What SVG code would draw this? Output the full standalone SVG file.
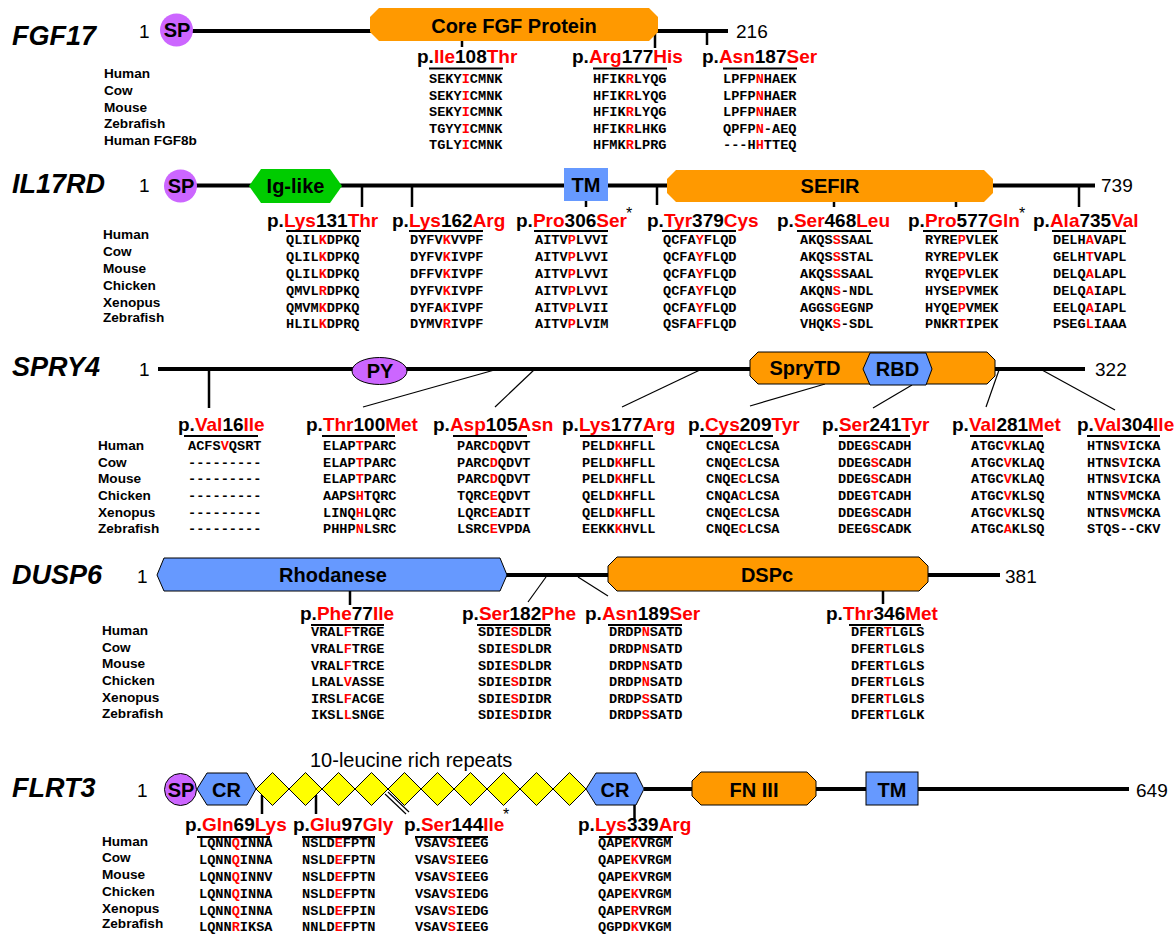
<svg xmlns="http://www.w3.org/2000/svg" width="1176" height="934" viewBox="0 0 1176 934">
<style>
text{font-family:"Liberation Sans",Arial,sans-serif}
.g{font-style:italic;font-weight:bold;font-size:27px}
.n{font-size:19px}
.d{font-weight:bold;font-size:20px;text-anchor:middle}
.l{font-weight:bold;font-size:19px}
.s{font-family:"Liberation Mono","Courier New",monospace;font-weight:bold;font-size:13.6px}
.a{font-size:16px}
.r{fill:#f00}
.bb{stroke:#000;stroke-width:4}
.tk{stroke:#000;stroke-width:2.5}
.th{stroke:#000;stroke-width:1.2}
.ul{stroke:#000;stroke-width:2}
.or{fill:#f90}
.bl{fill:#69f}
.pu{fill:#c6f}
.gr{fill:#0c0}
.ye{fill:#ff0}
.k{stroke:#000;stroke-width:1}
</style>
<rect width="1176" height="934" fill="#fff"/>

<!-- ================= FGF17 ================= -->
<g id="fgf17">
<text class="g" x="12" y="45">FGF17</text>
<text class="n" x="139" y="38">1</text>
<text class="n" x="736" y="38">216</text>
<g id="fgf17-connectors">
<line class="bb" x1="190" y1="31" x2="728" y2="31"/>
<line class="tk" x1="462" y1="38" x2="462" y2="47"/>
<line class="tk" x1="655" y1="31" x2="655" y2="48"/>
<line class="tk" x1="707" y1="31" x2="707" y2="45"/>
</g>
<g id="fgf17-sp"><circle class="pu" cx="176.5" cy="30" r="16.5"/><text class="d" x="177" y="37">SP</text></g>
<g id="fgf17-core"><polygon class="or" points="379,8 649,8 658,17 658,32 649,41 379,41 370,32 370,17"/><text class="d" x="514" y="33">Core FGF Protein</text></g>
<g class="s" fill="#000">
<text x="104" y="78">Human</text><text x="104" y="95">Cow</text><text x="104" y="112">Mouse</text><text x="104" y="128">Zebrafish</text><text x="104" y="145">Human FGF8b</text>
</g>
<g id="fgf17-ile108">
<text class="l" x="417" y="63">p.<tspan class="r">Ile</tspan>108<tspan class="r">Thr</tspan></text>
<line class="ul" x1="429" y1="68.5" x2="503" y2="68.5"/>
<text class="s" x="429" y="83">SEKY<tspan class="r">I</tspan>CMNK</text>
<text class="s" x="429" y="99.6">SEKY<tspan class="r">I</tspan>CMNK</text>
<text class="s" x="429" y="116.2">SEKY<tspan class="r">I</tspan>CMNK</text>
<text class="s" x="429" y="132.8">TGYY<tspan class="r">I</tspan>CMNK</text>
<text class="s" x="429" y="149.4">TGLY<tspan class="r">I</tspan>CMNK</text>
</g>
<g id="fgf17-arg177">
<text class="l" x="572" y="63">p.<tspan class="r">Arg</tspan>177<tspan class="r">His</tspan></text>
<line class="ul" x1="593" y1="68.5" x2="667" y2="68.5"/>
<text class="s" x="593" y="83">HFIK<tspan class="r">R</tspan>LYQG</text>
<text class="s" x="593" y="99.6">HFIK<tspan class="r">R</tspan>LYQG</text>
<text class="s" x="593" y="116.2">HFIK<tspan class="r">R</tspan>LYQG</text>
<text class="s" x="593" y="132.8">HFIK<tspan class="r">R</tspan>LHKG</text>
<text class="s" x="593" y="149.4">HFMK<tspan class="r">R</tspan>LPRG</text>
</g>
<g id="fgf17-asn187">
<text class="l" x="702" y="63">p.<tspan class="r">Asn</tspan>187<tspan class="r">Ser</tspan></text>
<line class="ul" x1="723" y1="68.5" x2="797" y2="68.5"/>
<text class="s" x="723" y="83">LPFP<tspan class="r">N</tspan>HAEK</text>
<text class="s" x="723" y="99.6">LPFP<tspan class="r">N</tspan>HAER</text>
<text class="s" x="723" y="116.2">LPFP<tspan class="r">N</tspan>HAER</text>
<text class="s" x="723" y="132.8">QPFP<tspan class="r">N</tspan>-AEQ</text>
<text class="s" x="723" y="149.4">---H<tspan class="r">H</tspan>TTEQ</text>
</g>
</g>

<!-- ================= IL17RD ================= -->
<g id="il17rd">
<text class="g" x="12" y="193">IL17RD</text>
<text class="n" x="139" y="192">1</text>
<text class="n" x="1101" y="192">739</text>
<g id="il17rd-connectors">
<line class="bb" x1="190" y1="185.5" x2="1095" y2="185.5"/>
<line class="tk" x1="362" y1="185" x2="362" y2="207"/>
<line class="tk" x1="412" y1="185" x2="412" y2="207"/>
<line class="tk" x1="586" y1="200" x2="586" y2="207"/>
<line class="tk" x1="657" y1="185" x2="657" y2="205"/>
<line class="tk" x1="834" y1="200" x2="834" y2="207"/>
<line class="tk" x1="956" y1="200" x2="956" y2="207"/>
<line class="tk" x1="1079" y1="185" x2="1079" y2="207"/>
</g>
<g id="il17rd-sp"><circle class="pu" cx="180.5" cy="186" r="16.5"/><text class="d" x="181" y="193">SP</text></g>
<g id="il17rd-ig"><polygon class="gr" points="249,186 261,169 330,169 342,186 330,203 261,203"/><text class="d" x="295.5" y="193">Ig-like</text></g>
<g id="il17rd-tm"><rect class="bl" x="564" y="168" width="44" height="33"/><text class="d" x="586" y="192">TM</text></g>
<g id="il17rd-sefir"><polygon class="or" points="676,170 984,170 993,179 993,193 984,202 676,202 667,193 667,179"/><text class="d" x="830" y="193">SEFIR</text></g>
<g class="s" fill="#000">
<text x="103" y="239">Human</text><text x="103" y="256">Cow</text><text x="103" y="273">Mouse</text><text x="103" y="290">Chicken</text><text x="103" y="307">Xenopus</text><text x="103" y="322">Zebrafish</text>
</g>
<g id="il17rd-lys131">
<text class="l" x="267" y="227">p.<tspan class="r">Lys</tspan>131<tspan class="r">Thr</tspan></text>
<line class="ul" x1="286" y1="231" x2="361" y2="231"/>
<text class="s" x="286" y="244">QLIL<tspan class="r">K</tspan>DPKQ</text>
<text class="s" x="286" y="261">QLIL<tspan class="r">K</tspan>DPKQ</text>
<text class="s" x="286" y="278">QLIL<tspan class="r">K</tspan>DPKQ</text>
<text class="s" x="286" y="295">QMVL<tspan class="r">R</tspan>DPKQ</text>
<text class="s" x="286" y="312">QMVM<tspan class="r">K</tspan>DPKQ</text>
<text class="s" x="286" y="328">HLIL<tspan class="r">K</tspan>DPRQ</text>
</g>
<g id="il17rd-lys162">
<text class="l" x="392" y="227">p.<tspan class="r">Lys</tspan>162<tspan class="r">Arg</tspan></text>
<line class="ul" x1="409" y1="231" x2="483" y2="231"/>
<text class="s" x="410" y="244">DYFV<tspan class="r">K</tspan>VVPF</text>
<text class="s" x="410" y="261">DYFV<tspan class="r">K</tspan>IVPF</text>
<text class="s" x="410" y="278">DFFV<tspan class="r">K</tspan>IVPF</text>
<text class="s" x="410" y="295">DYFV<tspan class="r">K</tspan>IVPF</text>
<text class="s" x="410" y="312">DYFA<tspan class="r">K</tspan>IVPF</text>
<text class="s" x="410" y="328">DYMV<tspan class="r">R</tspan>IVPF</text>
</g>
<g id="il17rd-pro306">
<text class="l" x="516" y="227">p.<tspan class="r">Pro</tspan>306<tspan class="r">Ser</tspan></text>
<text class="a" x="626" y="219">*</text>
<line class="ul" x1="534" y1="231" x2="608" y2="231"/>
<text class="s" x="535" y="244">AITV<tspan class="r">P</tspan>LVVI</text>
<text class="s" x="535" y="261">AITV<tspan class="r">P</tspan>LVVI</text>
<text class="s" x="535" y="278">AITV<tspan class="r">P</tspan>LVVI</text>
<text class="s" x="535" y="295">AITV<tspan class="r">P</tspan>LVVI</text>
<text class="s" x="535" y="312">AITV<tspan class="r">P</tspan>LVII</text>
<text class="s" x="535" y="328">AITV<tspan class="r">P</tspan>LVIM</text>
</g>
<g id="il17rd-tyr379">
<text class="l" x="647" y="227">p.<tspan class="r">Tyr</tspan>379<tspan class="r">Cys</tspan></text>
<line class="ul" x1="662" y1="231" x2="736" y2="231"/>
<text class="s" x="663" y="244">QCFA<tspan class="r">Y</tspan>FLQD</text>
<text class="s" x="663" y="261">QCFA<tspan class="r">Y</tspan>FLQD</text>
<text class="s" x="663" y="278">QCFA<tspan class="r">Y</tspan>FLQD</text>
<text class="s" x="663" y="295">QCFA<tspan class="r">Y</tspan>FLQD</text>
<text class="s" x="663" y="312">QCFA<tspan class="r">Y</tspan>FLQD</text>
<text class="s" x="663" y="328">QSFA<tspan class="r">F</tspan>FLQD</text>
</g>
<g id="il17rd-ser468">
<text class="l" x="777" y="227">p.<tspan class="r">Ser</tspan>468<tspan class="r">Leu</tspan></text>
<line class="ul" x1="797" y1="231" x2="871" y2="231"/>
<text class="s" x="800" y="244">AKQS<tspan class="r">S</tspan>SAAL</text>
<text class="s" x="800" y="261">AKQS<tspan class="r">S</tspan>STAL</text>
<text class="s" x="800" y="278">AKQS<tspan class="r">S</tspan>SAAL</text>
<text class="s" x="800" y="295">AKQN<tspan class="r">S</tspan>-NDL</text>
<text class="s" x="800" y="312">AGGS<tspan class="r">G</tspan>EGNP</text>
<text class="s" x="800" y="328">VHQK<tspan class="r">S</tspan>-SDL</text>
</g>
<g id="il17rd-pro577">
<text class="l" x="908" y="227">p.<tspan class="r">Pro</tspan>577<tspan class="r">Gln</tspan></text>
<text class="a" x="1019" y="219">*</text>
<line class="ul" x1="923" y1="231" x2="997" y2="231"/>
<text class="s" x="925" y="244">RYRE<tspan class="r">P</tspan>VLEK</text>
<text class="s" x="925" y="261">RYRE<tspan class="r">P</tspan>VLEK</text>
<text class="s" x="925" y="278">RYQE<tspan class="r">P</tspan>VLEK</text>
<text class="s" x="925" y="295">HYSE<tspan class="r">P</tspan>VMEK</text>
<text class="s" x="925" y="312">HYQE<tspan class="r">P</tspan>VMEK</text>
<text class="s" x="925" y="328">PNKR<tspan class="r">T</tspan>IPEK</text>
</g>
<g id="il17rd-ala735">
<text class="l" x="1033" y="227">p.<tspan class="r">Ala</tspan>735<tspan class="r">Val</tspan></text>
<line class="ul" x1="1052" y1="231" x2="1126" y2="231"/>
<text class="s" x="1053" y="244">DELH<tspan class="r">A</tspan>VAPL</text>
<text class="s" x="1053" y="261">GELH<tspan class="r">T</tspan>VAPL</text>
<text class="s" x="1053" y="278">DELQ<tspan class="r">A</tspan>LAPL</text>
<text class="s" x="1053" y="295">DELQ<tspan class="r">A</tspan>IAPL</text>
<text class="s" x="1053" y="312">EELQ<tspan class="r">A</tspan>IAPL</text>
<text class="s" x="1053" y="328">PSEG<tspan class="r">L</tspan>IAAA</text>
</g>
</g>

<!-- ================= SPRY4 ================= -->
<g id="spry4">
<text class="g" x="12" y="376">SPRY4</text>
<text class="n" x="139" y="376">1</text>
<text class="n" x="1095" y="376">322</text>
<g id="spry4-connectors">
<line class="bb" x1="158" y1="369" x2="1085" y2="369"/>
<line class="tk" x1="209" y1="369" x2="209" y2="408"/>
<line class="th" x1="363" y1="407" x2="498" y2="369"/>
<line class="th" x1="495" y1="407" x2="535" y2="369"/>
<line class="th" x1="622" y1="407" x2="702" y2="369"/>
<line class="th" x1="750" y1="406" x2="825" y2="384"/>
<line class="th" x1="873" y1="408" x2="912" y2="385"/>
<line class="th" x1="986" y1="407" x2="999" y2="370"/>
<line class="th" x1="1115" y1="410" x2="1042" y2="370"/>
</g>
<g id="spry4-py"><ellipse class="pu k" cx="379.5" cy="371" rx="27.5" ry="13.5"/><text class="d" x="380" y="378">PY</text></g>
<g id="spry4-sprytd"><polygon class="or k" points="758,352 987,352 995,360 995,376 987,384 758,384 750,376 750,360"/><text class="d" x="805" y="375">SpryTD</text></g>
<g id="spry4-rbd"><polygon class="bl k" points="863,369 870,353 926,353 932,369 926,385 870,385"/><text class="d" x="897.5" y="376">RBD</text></g>
<g class="s" fill="#000">
<text x="98" y="450">Human</text><text x="98" y="467">Cow</text><text x="98" y="483">Mouse</text><text x="98" y="500">Chicken</text><text x="98" y="517">Xenopus</text><text x="98" y="533">Zebrafish</text>
</g>
<g id="spry4-val16">
<text class="l" x="178" y="431">p.<tspan class="r">Val</tspan>16<tspan class="r">Ile</tspan></text>
<line class="ul" x1="184" y1="436" x2="258" y2="436"/>
<text class="s" x="188" y="450">ACFS<tspan class="r">V</tspan>QSRT</text>
<text class="s" x="188" y="467">---------</text>
<text class="s" x="188" y="483">---------</text>
<text class="s" x="188" y="500">---------</text>
<text class="s" x="188" y="517">---------</text>
<text class="s" x="188" y="533">---------</text>
</g>
<g id="spry4-thr100">
<text class="l" x="306" y="431">p.<tspan class="r">Thr</tspan>100<tspan class="r">Met</tspan></text>
<line class="ul" x1="322" y1="436" x2="395" y2="436"/>
<text class="s" x="323" y="450">ELAP<tspan class="r">T</tspan>PARC</text>
<text class="s" x="323" y="467">ELAP<tspan class="r">T</tspan>PARC</text>
<text class="s" x="323" y="483">ELAP<tspan class="r">T</tspan>PARC</text>
<text class="s" x="323" y="500">AAPS<tspan class="r">H</tspan>TQRC</text>
<text class="s" x="323" y="517">LINQ<tspan class="r">H</tspan>LQRC</text>
<text class="s" x="323" y="533">PHHP<tspan class="r">N</tspan>LSRC</text>
</g>
<g id="spry4-asp105">
<text class="l" x="433" y="431">p.<tspan class="r">Asp</tspan>105<tspan class="r">Asn</tspan></text>
<line class="ul" x1="453" y1="436" x2="527" y2="436"/>
<text class="s" x="457" y="450">PARC<tspan class="r">D</tspan>QDVT</text>
<text class="s" x="457" y="467">PARC<tspan class="r">D</tspan>QDVT</text>
<text class="s" x="457" y="483">PARC<tspan class="r">D</tspan>QDVT</text>
<text class="s" x="457" y="500">TQRC<tspan class="r">E</tspan>QDVT</text>
<text class="s" x="457" y="517">LQRC<tspan class="r">E</tspan>ADIT</text>
<text class="s" x="457" y="533">LSRC<tspan class="r">E</tspan>VPDA</text>
</g>
<g id="spry4-lys177">
<text class="l" x="562" y="431">p.<tspan class="r">Lys</tspan>177<tspan class="r">Arg</tspan></text>
<line class="ul" x1="580" y1="436" x2="653" y2="436"/>
<text class="s" x="582" y="450">PELD<tspan class="r">K</tspan>HFLL</text>
<text class="s" x="582" y="467">PELD<tspan class="r">K</tspan>HFLL</text>
<text class="s" x="582" y="483">PELD<tspan class="r">K</tspan>HFLL</text>
<text class="s" x="582" y="500">QELD<tspan class="r">K</tspan>HFLL</text>
<text class="s" x="582" y="517">QELD<tspan class="r">K</tspan>HFLL</text>
<text class="s" x="582" y="533">EEKK<tspan class="r">K</tspan>HVLL</text>
</g>
<g id="spry4-cys209">
<text class="l" x="688" y="431">p.<tspan class="r">Cys</tspan>209<tspan class="r">Tyr</tspan></text>
<line class="ul" x1="700" y1="436" x2="773" y2="436"/>
<text class="s" x="706" y="450">CNQE<tspan class="r">C</tspan>LCSA</text>
<text class="s" x="706" y="467">CNQE<tspan class="r">C</tspan>LCSA</text>
<text class="s" x="706" y="483">CNQE<tspan class="r">C</tspan>LCSA</text>
<text class="s" x="706" y="500">CNQA<tspan class="r">C</tspan>LCSA</text>
<text class="s" x="706" y="517">CNQE<tspan class="r">C</tspan>LCSA</text>
<text class="s" x="706" y="533">CNQE<tspan class="r">C</tspan>LCSA</text>
</g>
<g id="spry4-ser241">
<text class="l" x="822" y="431">p.<tspan class="r">Ser</tspan>241<tspan class="r">Tyr</tspan></text>
<line class="ul" x1="839" y1="436" x2="910" y2="436"/>
<text class="s" x="838" y="450">DDEG<tspan class="r">S</tspan>CADH</text>
<text class="s" x="838" y="467">DDEG<tspan class="r">S</tspan>CADH</text>
<text class="s" x="838" y="483">DDEG<tspan class="r">S</tspan>CADH</text>
<text class="s" x="838" y="500">DDEG<tspan class="r">T</tspan>CADH</text>
<text class="s" x="838" y="517">DDEG<tspan class="r">S</tspan>CADH</text>
<text class="s" x="838" y="533">DEEG<tspan class="r">S</tspan>CADK</text>
</g>
<g id="spry4-val281">
<text class="l" x="952" y="431">p.<tspan class="r">Val</tspan>281<tspan class="r">Met</tspan></text>
<line class="ul" x1="970" y1="436" x2="1043" y2="436"/>
<text class="s" x="971" y="450">ATGC<tspan class="r">V</tspan>KLAQ</text>
<text class="s" x="971" y="467">ATGC<tspan class="r">V</tspan>KLAQ</text>
<text class="s" x="971" y="483">ATGC<tspan class="r">V</tspan>KLAQ</text>
<text class="s" x="971" y="500">ATGC<tspan class="r">V</tspan>KLSQ</text>
<text class="s" x="971" y="517">ATGC<tspan class="r">V</tspan>KLSQ</text>
<text class="s" x="971" y="533">ATGC<tspan class="r">A</tspan>KLSQ</text>
</g>
<g id="spry4-val304">
<text class="l" x="1077" y="431">p.<tspan class="r">Val</tspan>304<tspan class="r">Ile</tspan></text>
<line class="ul" x1="1087" y1="436" x2="1160" y2="436"/>
<text class="s" x="1087" y="450">HTNS<tspan class="r">V</tspan>ICKA</text>
<text class="s" x="1087" y="467">HTNS<tspan class="r">V</tspan>ICKA</text>
<text class="s" x="1087" y="483">HTNS<tspan class="r">V</tspan>ICKA</text>
<text class="s" x="1087" y="500">NTNS<tspan class="r">V</tspan>MCKA</text>
<text class="s" x="1087" y="517">NTNS<tspan class="r">V</tspan>MCKA</text>
<text class="s" x="1087" y="533">STQS--CKV</text>
</g>
</g>

<!-- ================= DUSP6 ================= -->
<g id="dusp6">
<text class="g" x="12" y="584">DUSP6</text>
<text class="n" x="137" y="583">1</text>
<text class="n" x="1005" y="583">381</text>
<g id="dusp6-connectors">
<line class="bb" x1="505" y1="575" x2="1000" y2="575"/>
<line class="tk" x1="350" y1="590" x2="350" y2="605"/>
<line class="tk" x1="883" y1="590" x2="883" y2="604"/>
<line class="th" x1="528" y1="602" x2="546" y2="577"/>
<line class="th" x1="608" y1="596" x2="578" y2="577"/>
</g>
<g id="dusp6-rhod"><polygon class="bl k" points="157,575 164,558 500,558 507,575 500,591 164,591"/><text class="d" x="333" y="582">Rhodanese</text></g>
<g id="dusp6-dspc"><polygon class="or k" points="617,557 919,557 928,566 928,582 919,591 617,591 608,582 608,566"/><text class="d" x="767" y="582">DSPc</text></g>
<g class="s" fill="#000">
<text x="102" y="635">Human</text><text x="102" y="652">Cow</text><text x="102" y="668">Mouse</text><text x="102" y="685">Chicken</text><text x="102" y="702">Xenopus</text><text x="102" y="718">Zebrafish</text>
</g>
<g id="dusp6-phe77">
<text class="l" x="300" y="620">p.<tspan class="r">Phe</tspan>77<tspan class="r">Ile</tspan></text>
<line class="ul" x1="311" y1="625" x2="384" y2="625"/>
<text class="s" x="311" y="636">VRAL<tspan class="r">F</tspan>TRGE</text>
<text class="s" x="311" y="653">VRAL<tspan class="r">F</tspan>TRGE</text>
<text class="s" x="311" y="670">VRAL<tspan class="r">F</tspan>TRCE</text>
<text class="s" x="311" y="686">LRAL<tspan class="r">V</tspan>ASSE</text>
<text class="s" x="311" y="703">IRSL<tspan class="r">F</tspan>ACGE</text>
<text class="s" x="311" y="719">IKSL<tspan class="r">L</tspan>SNGE</text>
</g>
<g id="dusp6-ser182">
<text class="l" x="462" y="620">p.<tspan class="r">Ser</tspan>182<tspan class="r">Phe</tspan></text>
<line class="ul" x1="477" y1="625" x2="550" y2="625"/>
<text class="s" x="478" y="636">SDIE<tspan class="r">S</tspan>DLDR</text>
<text class="s" x="478" y="653">SDIE<tspan class="r">S</tspan>DLDR</text>
<text class="s" x="478" y="670">SDIE<tspan class="r">S</tspan>DLDR</text>
<text class="s" x="478" y="686">SDIE<tspan class="r">S</tspan>DIDR</text>
<text class="s" x="478" y="703">SDIE<tspan class="r">S</tspan>DIDR</text>
<text class="s" x="478" y="719">SDIE<tspan class="r">S</tspan>DIDR</text>
</g>
<g id="dusp6-asn189">
<text class="l" x="585" y="620">p.<tspan class="r">Asn</tspan>189<tspan class="r">Ser</tspan></text>
<line class="ul" x1="608" y1="625" x2="682" y2="625"/>
<text class="s" x="609" y="636">DRDP<tspan class="r">N</tspan>SATD</text>
<text class="s" x="609" y="653">DRDP<tspan class="r">N</tspan>SATD</text>
<text class="s" x="609" y="670">DRDP<tspan class="r">N</tspan>SATD</text>
<text class="s" x="609" y="686">DRDP<tspan class="r">N</tspan>SATD</text>
<text class="s" x="609" y="703">DRDP<tspan class="r">S</tspan>SATD</text>
<text class="s" x="609" y="719">DRDP<tspan class="r">S</tspan>SATD</text>
</g>
<g id="dusp6-thr346">
<text class="l" x="826" y="620">p.<tspan class="r">Thr</tspan>346<tspan class="r">Met</tspan></text>
<line class="ul" x1="849" y1="625" x2="921" y2="625"/>
<text class="s" x="851" y="636">DFER<tspan class="r">T</tspan>LGLS</text>
<text class="s" x="851" y="653">DFER<tspan class="r">T</tspan>LGLS</text>
<text class="s" x="851" y="670">DFER<tspan class="r">T</tspan>LGLS</text>
<text class="s" x="851" y="686">DFER<tspan class="r">T</tspan>LGLS</text>
<text class="s" x="851" y="703">DFER<tspan class="r">T</tspan>LGLS</text>
<text class="s" x="851" y="719">DFER<tspan class="r">T</tspan>LGLK</text>
</g>
</g>

<!-- ================= FLRT3 ================= -->
<g id="flrt3">
<text class="g" x="12" y="797">FLRT3</text>
<text class="n" x="137" y="797">1</text>
<text class="n" x="1136" y="797">649</text>
<text x="310" y="767" font-size="20">10-leucine rich repeats</text>
<g id="flrt3-connectors">
<line class="bb" x1="644" y1="789" x2="1129" y2="789"/>
<line class="tk" x1="262" y1="795" x2="262" y2="814"/>
<line class="tk" x1="316" y1="795" x2="316" y2="814"/>
<line class="th" x1="385" y1="794" x2="406" y2="814"/>
<line class="th" x1="388" y1="792" x2="409" y2="812"/>
<line class="tk" x1="634.5" y1="805" x2="634.5" y2="819"/>
</g>
<g id="flrt3-sp"><circle class="pu k" cx="180.5" cy="789.5" r="16"/><text class="d" x="181" y="796.5">SP</text></g>
<g id="flrt3-cr1"><polygon class="bl k" points="197,789 207,773 247,773 256,789 247,805 207,805"/><text class="d" x="226.5" y="796.5">CR</text></g>
<g id="flrt3-lrr" class="ye k">
<polygon points="256,789 272.5,772.5 289,789 272.5,805.5"/>
<polygon points="289,789 305.5,772.5 322,789 305.5,805.5"/>
<polygon points="322,789 338.5,772.5 355,789 338.5,805.5"/>
<polygon points="355,789 371.5,772.5 388,789 371.5,805.5"/>
<polygon points="388,789 404.5,772.5 421,789 404.5,805.5"/>
<polygon points="421,789 437.5,772.5 454,789 437.5,805.5"/>
<polygon points="454,789 470.5,772.5 487,789 470.5,805.5"/>
<polygon points="487,789 503.5,772.5 520,789 503.5,805.5"/>
<polygon points="520,789 536.5,772.5 553,789 536.5,805.5"/>
<polygon points="553,789 569.5,772.5 586,789 569.5,805.5"/>
</g>
<g id="flrt3-cr2"><polygon class="bl k" points="586,789 596,773 636,773 644,789 636,805 596,805"/><text class="d" x="615" y="796.5">CR</text></g>
<g id="flrt3-fn3"><polygon class="or k" points="701,772 807,772 816,781 816,796 807,805 701,805 692,796 692,781"/><text class="d" x="754" y="796.5">FN III</text></g>
<g id="flrt3-tm"><rect class="bl k" x="866" y="772" width="52" height="33"/><text class="d" x="892" y="796.5">TM</text></g>
<g class="s" fill="#000">
<text x="102" y="846">Human</text><text x="102" y="862">Cow</text><text x="102" y="879">Mouse</text><text x="102" y="896">Chicken</text><text x="102" y="913">Xenopus</text><text x="102" y="928">Zebrafish</text>
</g>
<g id="flrt3-gln69">
<text class="l" x="185" y="831">p.<tspan class="r">Gln</tspan>69<tspan class="r">Lys</tspan></text>
<line class="ul" x1="197" y1="837" x2="270" y2="837"/>
<text class="s" x="199" y="847">LQNN<tspan class="r">Q</tspan>INNA</text>
<text class="s" x="199" y="864">LQNN<tspan class="r">Q</tspan>INNA</text>
<text class="s" x="199" y="881">LQNN<tspan class="r">Q</tspan>INNV</text>
<text class="s" x="199" y="898">LQNN<tspan class="r">Q</tspan>INNA</text>
<text class="s" x="199" y="915">LQNN<tspan class="r">Q</tspan>INNA</text>
<text class="s" x="199" y="931">LQNN<tspan class="r">R</tspan>IKSA</text>
</g>
<g id="flrt3-glu97">
<text class="l" x="293" y="831">p.<tspan class="r">Glu</tspan>97<tspan class="r">Gly</tspan></text>
<line class="ul" x1="302" y1="837" x2="375" y2="837"/>
<text class="s" x="302" y="847">NSLD<tspan class="r">E</tspan>FPTN</text>
<text class="s" x="302" y="864">NSLD<tspan class="r">E</tspan>FPTN</text>
<text class="s" x="302" y="881">NSLD<tspan class="r">E</tspan>FPTN</text>
<text class="s" x="302" y="898">NSLD<tspan class="r">E</tspan>FPTN</text>
<text class="s" x="302" y="915">NSLD<tspan class="r">E</tspan>FPIN</text>
<text class="s" x="302" y="931">NNLD<tspan class="r">E</tspan>FPTN</text>
</g>
<g id="flrt3-ser144">
<text class="l" x="404" y="831">p.<tspan class="r">Ser</tspan>144<tspan class="r">Ile</tspan></text>
<text class="a" x="503" y="820">*</text>
<line class="ul" x1="415" y1="837" x2="488" y2="837"/>
<text class="s" x="415" y="847">VSAV<tspan class="r">S</tspan>IEEG</text>
<text class="s" x="415" y="864">VSAV<tspan class="r">S</tspan>IEEG</text>
<text class="s" x="415" y="881">VSAV<tspan class="r">S</tspan>IEEG</text>
<text class="s" x="415" y="898">VSAV<tspan class="r">S</tspan>IEDG</text>
<text class="s" x="415" y="915">VSAV<tspan class="r">S</tspan>IEDG</text>
<text class="s" x="415" y="931">VSAV<tspan class="r">S</tspan>IEEG</text>
</g>
<g id="flrt3-lys339">
<text class="l" x="578" y="831">p.<tspan class="r">Lys</tspan>339<tspan class="r">Arg</tspan></text>
<line class="ul" x1="599" y1="837" x2="673" y2="837"/>
<text class="s" x="598" y="847">QAPE<tspan class="r">K</tspan>VRGM</text>
<text class="s" x="598" y="864">QAPE<tspan class="r">K</tspan>VRGM</text>
<text class="s" x="598" y="881">QAPE<tspan class="r">K</tspan>VRGM</text>
<text class="s" x="598" y="898">QAPE<tspan class="r">K</tspan>VRGM</text>
<text class="s" x="598" y="915">QAPE<tspan class="r">R</tspan>VRGM</text>
<text class="s" x="598" y="931">QGPD<tspan class="r">K</tspan>VKGM</text>
</g>
</g>
</svg>
